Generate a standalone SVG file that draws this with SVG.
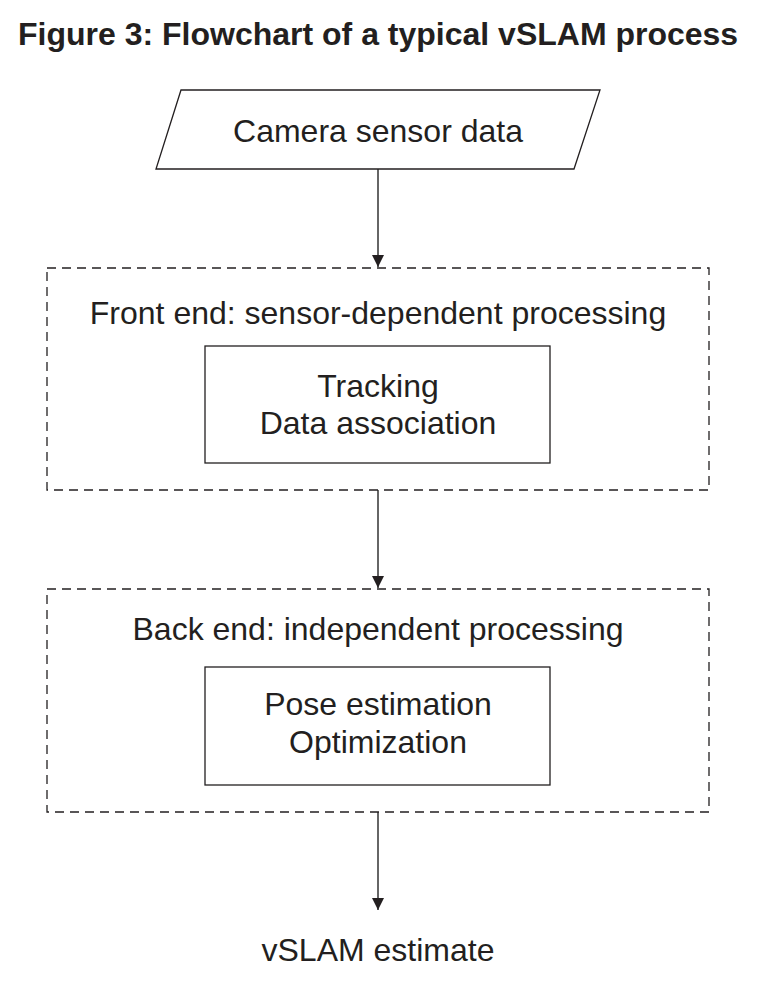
<svg xmlns="http://www.w3.org/2000/svg" width="763" height="982" viewBox="0 0 763 982">
  <style>
    text { font-family: "Liberation Sans", Arial, sans-serif; fill: #231f20; }
    .title { font-size: 32px; font-weight: bold; }
    .lbl { font-size: 32px; text-anchor: middle; }
    .shape { fill: #ffffff; stroke: #231f20; stroke-width: 1.3; }
    .dash { fill: none; stroke: #231f20; stroke-width: 1.3; stroke-dasharray: 9 6; }
    .conn { fill: none; stroke: #333333; stroke-width: 1.5; }
  </style>
  <defs>
    <marker id="arrow" viewBox="0 0 12 12" refX="12" refY="6" markerWidth="12" markerHeight="12" markerUnits="userSpaceOnUse" orient="auto">
      <path d="M0,0 L12,6 L0,12 z" fill="#231f20"/>
    </marker>
  </defs>
  <rect width="763" height="982" fill="#ffffff"/>
  <text class="title" x="18" y="45">Figure 3: Flowchart of a typical vSLAM process</text>

  <g id="connectors">
    <line class="conn" x1="378" y1="169" x2="378" y2="267" marker-end="url(#arrow)"/>
    <line class="conn" x1="378" y1="490" x2="378" y2="588" marker-end="url(#arrow)"/>
    <line class="conn" x1="378" y1="812" x2="378" y2="910" marker-end="url(#arrow)"/>
  </g>

  <g id="camera">
    <polygon class="shape" points="181,90 600,90 574,169 156,169"/>
    <text class="lbl" x="378" y="142">Camera sensor data</text>
  </g>

  <g id="frontend">
    <rect class="dash" x="47" y="268" width="662" height="222"/>
    <text class="lbl" x="378" y="324">Front end: sensor-dependent processing</text>
  </g>
  <g id="tracking">
    <rect class="shape" x="205" y="346" width="345" height="117"/>
    <text class="lbl" x="378" y="397">Tracking</text>
    <text class="lbl" x="378" y="434">Data association</text>
  </g>

  <g id="backend">
    <rect class="dash" x="47" y="589" width="662" height="223"/>
    <text class="lbl" x="378" y="640">Back end: independent processing</text>
  </g>
  <g id="pose">
    <rect class="shape" x="205" y="667" width="345" height="118"/>
    <text class="lbl" x="378" y="715">Pose estimation</text>
    <text class="lbl" x="378" y="753">Optimization</text>
  </g>

  <g id="estimate">
    <text class="lbl" x="378" y="961">vSLAM estimate</text>
  </g>
</svg>
